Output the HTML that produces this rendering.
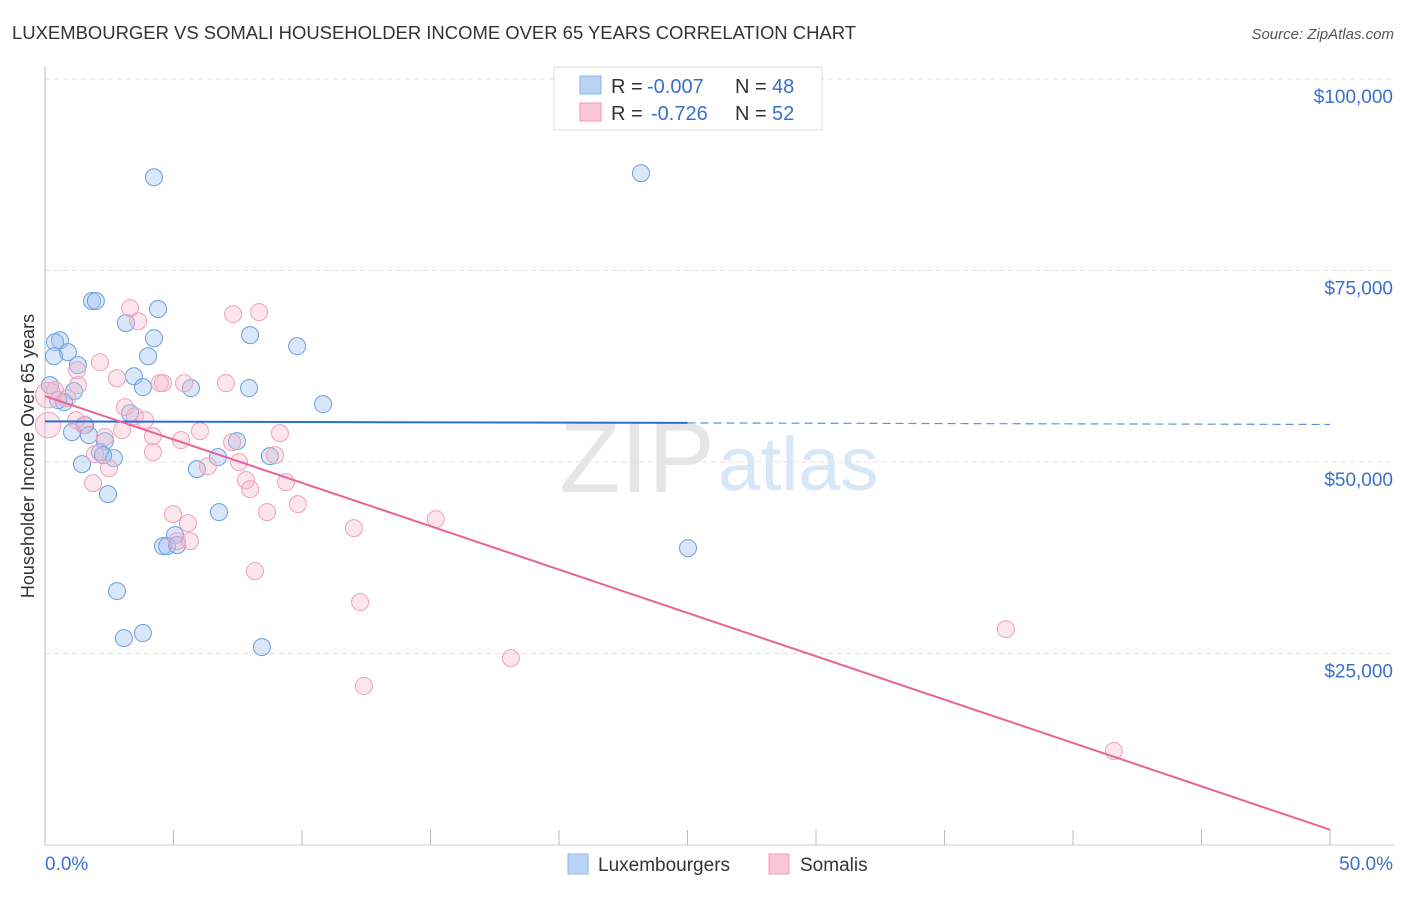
<!DOCTYPE html>
<html><head><meta charset="utf-8"><style>
body{margin:0;background:#fff;font-family:"Liberation Sans",sans-serif;}
svg text{font-family:"Liberation Sans",sans-serif;}
</style></head><body>
<svg id="chart" width="1406" height="892" xmlns="http://www.w3.org/2000/svg">
<text x="12" y="39" font-size="18" fill="#333" textLength="844" lengthAdjust="spacingAndGlyphs">LUXEMBOURGER VS SOMALI HOUSEHOLDER INCOME OVER 65 YEARS CORRELATION CHART</text>
<text x="1394" y="39" font-size="15" fill="#555" text-anchor="end" font-style="italic">Source: ZipAtlas.com</text>
<text x="715" y="492" font-size="100" fill="#e6e6e6" text-anchor="end" font-family="Liberation Serif">ZIP</text>
<text x="718" y="490" font-size="76" fill="#d9e6f6">atlas</text>
<g id="grid"></g>
<g id="axes"></g>
<g id="marks"></g>
<text transform="translate(34,456) rotate(-90)" font-size="18" fill="#333" text-anchor="middle">Householder Income Over 65 years</text>
<g>
<rect x="554" y="67" width="268" height="63" fill="#fff" stroke="#ddd"/>
<rect x="580" y="76" width="21" height="18" fill="#b9d3f5" stroke="#8ab3e8"/>
<text x="611" y="93" font-size="20" fill="#333">R =</text>
<text x="647" y="93" font-size="20" fill="#3a6fd0">-0.007</text>
<text x="735" y="93" font-size="20" fill="#333">N =</text>
<text x="772" y="93" font-size="20" fill="#3a6fd0">48</text>
<rect x="580" y="103" width="21" height="18" fill="#f9c6d5" stroke="#ee9bb4"/>
<text x="611" y="120" font-size="20" fill="#333">R =</text>
<text x="651" y="120" font-size="20" fill="#3a6fd0">-0.726</text>
<text x="735" y="120" font-size="20" fill="#333">N =</text>
<text x="772" y="120" font-size="20" fill="#3a6fd0">52</text>
</g>
<g>
<rect x="568" y="854" width="20" height="20" fill="#b9d3f5" stroke="#8ab3e8"/>
<text x="598" y="871" font-size="19" fill="#333">Luxembourgers</text>
<rect x="769" y="854" width="20" height="20" fill="#f9c6d5" stroke="#ee9bb4"/>
<text x="800" y="871" font-size="19" fill="#333">Somalis</text>
</g>
</svg>
<script>
const yTicks=[25000,50000,75000,100000];
const yTickLabels=["$25,000","$50,000","$75,000","$100,000"];
const xTickLabels=["0.0%","50.0%"];
const luxX=[4.24,23.19,1.83,1.98,4.40,3.15,4.24,7.98,9.81,0.58,0.39,0.89,4.01,1.28,0.35,3.46,3.81,5.68,7.94,1.13,0.74,10.82,3.31,1.56,1.05,1.71,2.33,7.47,2.14,2.68,8.75,6.73,1.44,5.91,2.45,6.77,5.06,4.59,4.75,25.02,2.80,3.07,3.81,8.44,0.19,0.51,2.26,5.14];
const luxY=[87170,87700,71020,71020,69970,68150,66160,66560,65120,65900,65640,64340,63810,62640,63810,61200,59770,59640,59640,59250,57810,57550,56380,54810,53900,53510,52720,52720,51290,50500,50760,50630,49720,49070,45810,43460,40460,39020,39020,38760,33150,27010,27670,25840,60030,58070,50890,39150];
const somX=[3.31,3.62,7.32,8.33,2.14,1.25,2.80,4.47,5.41,7.04,4.59,1.28,0.39,0.86,0.12,0.12,3.11,3.50,3.89,1.52,6.03,9.14,3.00,4.20,2.33,5.29,7.28,1.95,4.20,8.95,6.34,7.55,2.49,7.82,7.98,9.38,1.87,8.64,9.84,4.98,5.56,12.02,15.21,5.14,8.17,12.26,37.39,18.13,12.41,41.59,5.64,1.21];
const somY=[70080,68380,69300,69560,63030,61990,60940,60290,60290,60290,60290,60030,59380,58330,54810,58730,57160,55980,55460,54810,54030,53770,54160,53380,53240,52850,52590,51030,51290,50900,49460,49980,49200,47630,46460,47370,47240,43460,44500,43200,42020,41370,42540,39670,35760,31710,28190,24400,20750,12270,39670,55460];
const somWeight=[1,1,1,1,1,1,1,1,1,1,1,1,1,1,2,2,1,1,1,1,1,1,1,1,1,1,1,1,1,1,1,1,1,1,1,1,1,1,1,1,1,1,1,1,1,1,1,1,1,1,1,1];
const luxTrend=[55300,54900];
const somTrend=[58600,2000];
const xs=v=>45+v/50*1285;
const ys=v=>845-v/25000*191.5;
const NS="http://www.w3.org/2000/svg";
function mk(p,t,a){const e=document.createElementNS(NS,t);for(const k in a)e.setAttribute(k,a[k]);p.appendChild(e);return e;}
const grid=document.getElementById('grid'),axes=document.getElementById('axes'),marks=document.getElementById('marks');
yTicks.forEach((v,i)=>{
 const l=mk(grid,'line',{x1:45,x2:1394,y1:ys(v),y2:ys(v),stroke:'#e2e2e2','stroke-dasharray':'5,4'});
 
 
 const t=mk(axes,'text',{x:1393,y:ys(v)+24,'font-size':19,fill:'#3a6fd0','text-anchor':'end'});
 t.textContent=yTickLabels[i];
 
 
});
mk(grid,'line',{x1:45,x2:1394,y1:79,y2:79,stroke:'#e2e2e2','stroke-dasharray':'5,4'});
const ya=mk(axes,'line',{x1:45,x2:45,y1:67,y2:845,stroke:'#bbb'});


const xa=mk(axes,'line',{x1:45,x2:1394,y1:845,y2:845,stroke:'#ccc'});


for(let i=0;i<=10;i++){const tk=mk(axes,'line',{x1:xs(i*5),x2:xs(i*5),y1:830,y2:845,stroke:'#bbb'});
 
 }
const xl0=mk(axes,'text',{x:45,y:870,'font-size':19,fill:'#3a6fd0'});xl0.textContent=xTickLabels[0];


const xl1=mk(axes,'text',{x:1393,y:870,'font-size':19,fill:'#3a6fd0','text-anchor':'end'});xl1.textContent=xTickLabels[1];


luxX.forEach((x,i)=>{const c=mk(marks,'circle',{cx:xs(x),cy:ys(luxY[i]),r:8.5,fill:'rgba(160,196,240,0.4)',stroke:'#6b9ee0','stroke-width':1});
 
 });
somX.forEach((x,i)=>{const c=mk(marks,'circle',{cx:xs(x),cy:ys(somY[i]),r:8.5*(somWeight[i]>1?1.5:1),fill:'rgba(246,180,200,0.35)',stroke:'#eda2b9','stroke-width':1});
 
 });
const lt=mk(marks,'line',{x1:xs(0),y1:ys(luxTrend[0]),x2:xs(25),y2:ys(luxTrend[0]+(luxTrend[1]-luxTrend[0])/2),stroke:'#2a6fd0','stroke-width':2});


const ld=mk(marks,'line',{x1:xs(25),y1:ys(luxTrend[0]+(luxTrend[1]-luxTrend[0])/2),x2:xs(50),y2:ys(luxTrend[1]),stroke:'#5b93dc','stroke-width':1.2,'stroke-dasharray':'8,5'});


const st=mk(marks,'line',{x1:xs(0),y1:ys(somTrend[0]),x2:xs(50),y2:ys(somTrend[1]),stroke:'#e8639a','stroke-width':2});


</script>
</body></html>
